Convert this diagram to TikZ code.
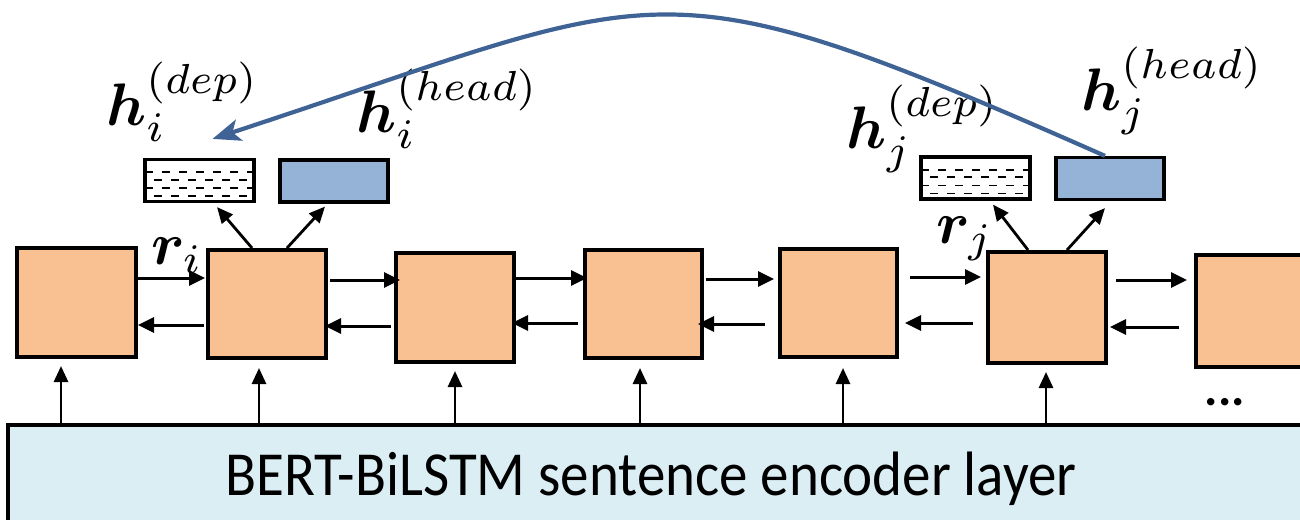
\documentclass[tikz,border=0pt]{standalone}
\usepackage{amsmath,bm}
\usepackage{fontspec}
\newfontfamily\carl{Carlito}
\usetikzlibrary{arrows.meta,calc}
\definecolor{cellfill}{HTML}{F9C091}
\definecolor{headfill}{HTML}{95B3D7}
\definecolor{encfill}{HTML}{DBEEF4}
\definecolor{arcblue}{HTML}{3F6395}
\begin{document}
\begin{tikzpicture}[x=1pt,y=-1pt,
  cell/.style={draw, line width=4pt, fill=cellfill, inner sep=0pt},
  arr/.style={-{Triangle[length=16pt,width=14pt]}, line width=2.8pt},
  harr/.style={-{Triangle[length=16pt,width=15pt]}, line width=3pt},
  headbox/.style={draw, line width=3.2pt, fill=headfill, inner sep=0pt, minimum width=108, minimum height=42},
  depbox/.style={draw, line width=3.2pt, fill=white, inner sep=0pt, minimum width=109, minimum height=42,
    path picture={
      \foreach \f/\o in {0.30/0,0.48/8,0.68/0,0.87/8}
        \draw[line width=1.8pt, dash pattern=on 8pt off 9pt, dash phase=\o pt]
          ($(path picture bounding box.north west)!\f!(path picture bounding box.south west)$) --
          ($(path picture bounding box.north east)!\f!(path picture bounding box.south east)$);
    }},
  lbl/.style={inner sep=0pt, anchor=base west, scale=6.0},
  arcarrow/.style={draw=arcblue, line width=4.2pt, -{Stealth[length=28pt,width=22pt,inset=7pt]}}
]
\useasboundingbox (0,0) rectangle (1300,519);

% encoder layer
\node[draw, line width=4pt, fill=encfill, minimum width=1312, minimum height=115, inner sep=0pt] (enc) at (664,482.5) {};
\node[inner sep=0pt, anchor=base, yscale=1.1, font=\carl\fontsize{57}{60}\selectfont] (enctext) at (651,495) {BERT-BiLSTM sentence encoder layer};

% cells
\node[cell, minimum width=119, minimum height=109] (c1) at (76.5,302.5) {};
\node[cell, minimum width=118, minimum height=108] (c2) at (267,304) {};
\node[cell, minimum width=118, minimum height=109] (c3) at (455,307.5) {};
\node[cell, minimum width=117, minimum height=108] (c4) at (643.5,304) {};
\node[cell, minimum width=117, minimum height=108] (c5) at (838.5,303) {};
\node[cell, minimum width=118, minimum height=111] (c6) at (1047,307.5) {};
\node[cell, minimum width=120, minimum height=112] (c7) at (1256,311) {};

\node[inner sep=0pt, anchor=base, font=\carl\bfseries\fontsize{50}{60}\selectfont] (dots) at (1225,405) {...};

% vertical input arrows
\coordinate (v1) at ([xshift=-15.5pt,yshift=-7pt]c1.south);
\coordinate (v2) at ([xshift=-8pt,yshift=-8pt]c2.south);
\coordinate (v3) at ([xshift=0pt,yshift=-7pt]c3.south);
\coordinate (v4) at ([xshift=-3.5pt,yshift=-8pt]c4.south);
\coordinate (v5) at ([xshift=4.5pt,yshift=-9pt]c5.south);
\coordinate (v6) at ([xshift=-1pt,yshift=-7pt]c6.south);
\foreach \v in {v1,v2,v3,v4,v5,v6}
  \draw[arr] (\v |- enc.north) -- (\v);

% forward / backward arrows
\draw[harr] ([yshift=24.5pt]c1.east) -- ([xshift=-1pt,yshift=26pt]c2.west);
\draw[harr] ([xshift=-2pt,yshift=-21pt]c2.west) -- ([yshift=-22.5pt]c1.east);
\draw[harr] ([xshift=2pt,yshift=24pt]c2.east) -- ([xshift=6pt,yshift=27.5pt]c3.west);
\draw[harr] ([xshift=-3pt,yshift=-18.5pt]c3.west) -- ([xshift=-3pt,yshift=-22pt]c2.east);
\draw[harr] ([yshift=29.5pt]c3.east) -- ([xshift=4pt,yshift=26pt]c4.west);
\draw[harr] ([xshift=-5pt,yshift=-19pt]c4.west) -- ([xshift=-4pt,yshift=-15.5pt]c3.east);
\draw[harr] ([xshift=2pt,yshift=25pt]c4.east) -- ([xshift=-4pt,yshift=24pt]c5.west);
\draw[harr] ([xshift=-13pt,yshift=-21pt]c5.west) -- ([xshift=-6pt,yshift=-20pt]c4.east);
\draw[harr] ([xshift=11pt,yshift=26pt]c5.east) -- ([xshift=-5pt,yshift=30.5pt]c6.west);
\draw[harr] ([xshift=-13pt,yshift=-15.5pt]c6.west) -- ([xshift=6pt,yshift=-20pt]c5.east);
\draw[harr] ([xshift=8pt,yshift=27.5pt]c6.east) -- ([xshift=-7pt,yshift=31pt]c7.west);
\draw[harr] ([xshift=-15pt,yshift=-16pt]c7.west) -- ([xshift=2pt,yshift=-19.5pt]c6.east);

% projection boxes
\node[depbox] (depi) at (199.5,180.5) {};
\node[headbox] (headi) at (334,181) {};
\node[depbox] (depj) at (975.5,178) {};
\node[headbox] (headj) at (1110,178.5) {};

\draw[arr] ([xshift=-15pt]c2.north) -- ([xshift=17.5pt,yshift=-4pt]depi.south);
\draw[arr] ([xshift=20pt]c2.north) -- ([xshift=-9pt,yshift=-3pt]headi.south);
\draw[arr] ([xshift=-19pt]c6.north) -- ([xshift=17.5pt,yshift=-4pt]depj.south);
\draw[arr] ([xshift=20pt]c6.north) -- ([xshift=-5pt,yshift=-7pt]headj.south);

% labels
\node[lbl] (lhi) at (105,125) {$\bm{h}_i^{(dep)}$};
\node[lbl] (lhhi) at (355,132) {$\bm{h}_i^{(head)}$};
\node[lbl] (lhj) at (845,148) {$\bm{h}_j^{(dep)}$};
\node[lbl] (lhhj) at (1080,110) {$\bm{h}_j^{(head)}$};
\node[lbl] (lri) at (150,264) {$\bm{r}_i$};
\node[lbl] (lrj) at (935,243) {$\bm{r}_j$};

% arc
\draw[arcarrow] ([xshift=-5pt]headj.north) .. controls (647,-46.5) and (670,-11) .. ([xshift=13pt,yshift=19pt]depi.north);
\end{tikzpicture}
\end{document}
